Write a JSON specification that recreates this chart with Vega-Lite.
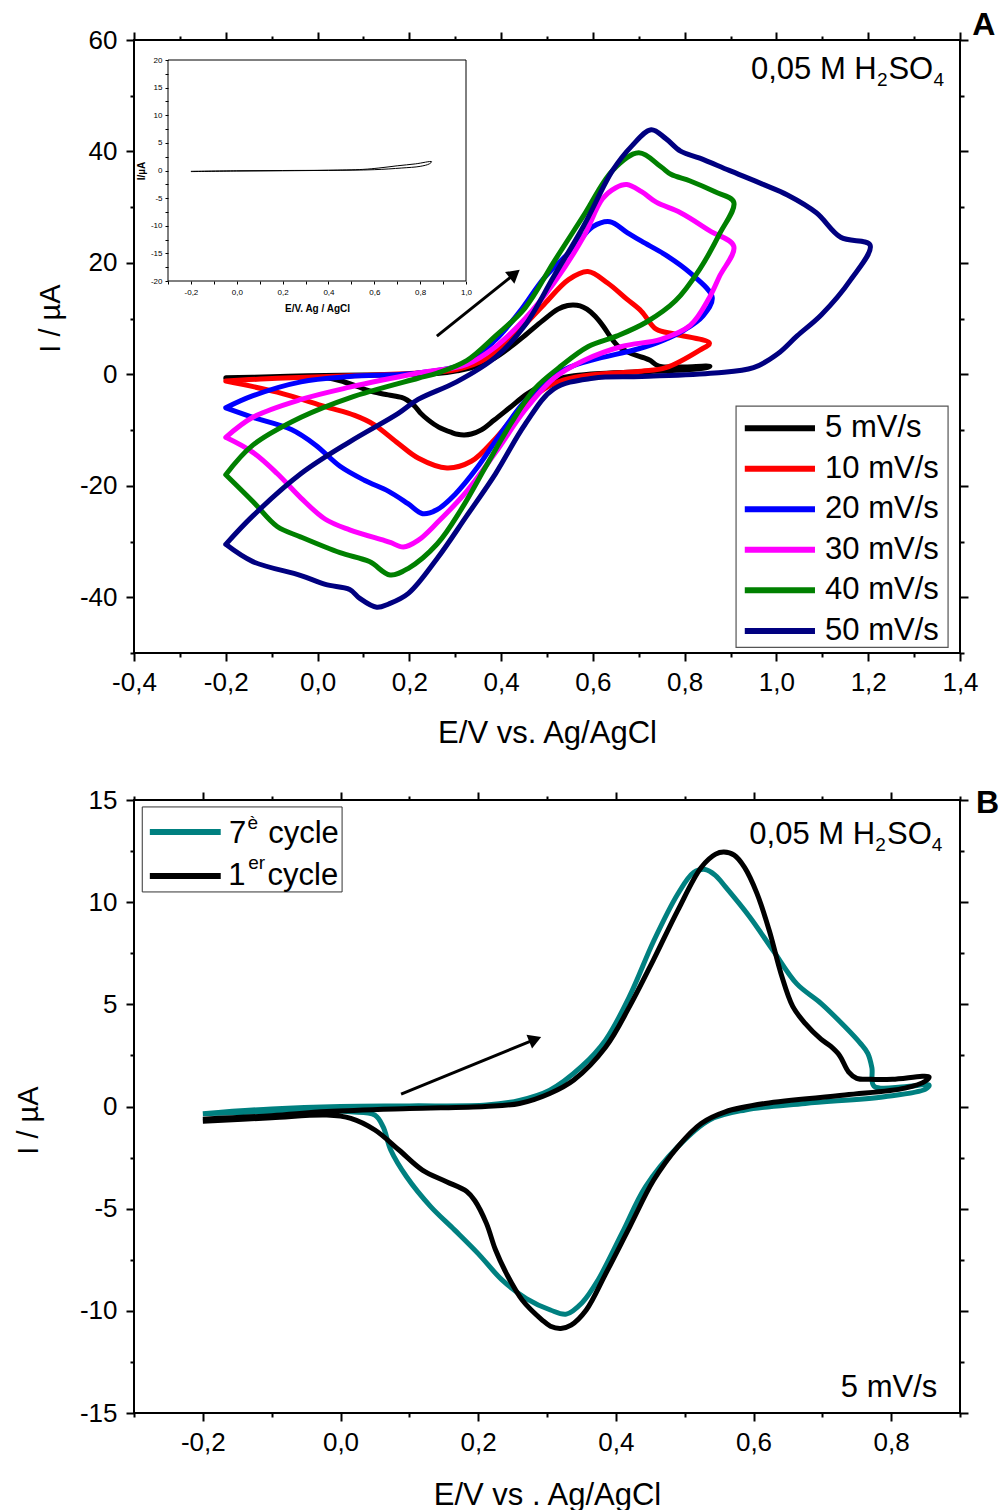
{
  "$schema": "https://vega.github.io/schema/vega-lite/v6.json",
  "background": "white",
  "padding": {"left": 13, "top": 7, "right": 0, "bottom": 0},
  "bounds": "flush",
  "spacing": 147,
  "resolve": {"scale": {"color": "independent"}},
  "config": {
    "font": "Liberation Sans",
    "view": {"stroke": "black", "strokeWidth": 2},
    "axis": {"grid": false, "domain": false, "tickColor": "black", "tickWidth": 2, "labelColor": "black", "titleColor": "black", "labelFont": "Liberation Sans", "titleFont": "Liberation Sans", "titleFontWeight": "normal", "labelFlush": false, "labelOverlap": false, "labelBound": false}
  },
  "datasets": {
    "A": [
      {"s":"5 mV/s","i":0,"E":-0.2,"I":-0.62},{"s":"5 mV/s","i":1,"E":-0.1,"I":-0.45},{"s":"5 mV/s","i":2,"E":-0.02,"I":-0.25},{"s":"5 mV/s","i":3,"E":0.1,"I":-0.1},{"s":"5 mV/s","i":4,"E":0.21,"I":0.0},{"s":"5 mV/s","i":5,"E":0.26,"I":0.15},{"s":"5 mV/s","i":6,"E":0.304,"I":0.64},{"s":"5 mV/s","i":7,"E":0.339,"I":1.3},{"s":"5 mV/s","i":8,"E":0.385,"I":2.9},{"s":"5 mV/s","i":9,"E":0.42,"I":4.9},{"s":"5 mV/s","i":10,"E":0.455,"I":7.2},{"s":"5 mV/s","i":11,"E":0.49,"I":9.6},{"s":"5 mV/s","i":12,"E":0.524,"I":11.7},{"s":"5 mV/s","i":13,"E":0.545,"I":12.35},{"s":"5 mV/s","i":14,"E":0.557,"I":12.45},{"s":"5 mV/s","i":15,"E":0.572,"I":12.3},{"s":"5 mV/s","i":16,"E":0.587,"I":11.7},{"s":"5 mV/s","i":17,"E":0.605,"I":10.43},{"s":"5 mV/s","i":18,"E":0.623,"I":8.6},{"s":"5 mV/s","i":19,"E":0.64,"I":6.5},{"s":"5 mV/s","i":20,"E":0.657,"I":4.9},{"s":"5 mV/s","i":21,"E":0.675,"I":4.07},{"s":"5 mV/s","i":22,"E":0.698,"I":3.3},{"s":"5 mV/s","i":23,"E":0.712,"I":2.95},{"s":"5 mV/s","i":24,"E":0.725,"I":2.5},{"s":"5 mV/s","i":25,"E":0.738,"I":1.7},{"s":"5 mV/s","i":26,"E":0.75,"I":1.38},{"s":"5 mV/s","i":27,"E":0.77,"I":1.33},{"s":"5 mV/s","i":28,"E":0.802,"I":1.33},{"s":"5 mV/s","i":29,"E":0.855,"I":1.45},{"s":"5 mV/s","i":30,"E":0.85,"I":1.25},{"s":"5 mV/s","i":31,"E":0.82,"I":0.9},{"s":"5 mV/s","i":32,"E":0.733,"I":0.56},{"s":"5 mV/s","i":33,"E":0.617,"I":0.15},{"s":"5 mV/s","i":34,"E":0.559,"I":-0.26},{"s":"5 mV/s","i":35,"E":0.524,"I":-0.83},{"s":"5 mV/s","i":36,"E":0.49,"I":-1.97},{"s":"5 mV/s","i":37,"E":0.455,"I":-3.6},{"s":"5 mV/s","i":38,"E":0.42,"I":-5.9},{"s":"5 mV/s","i":39,"E":0.385,"I":-8.2},{"s":"5 mV/s","i":40,"E":0.357,"I":-9.96},{"s":"5 mV/s","i":41,"E":0.335,"I":-10.7},{"s":"5 mV/s","i":42,"E":0.32,"I":-10.86},{"s":"5 mV/s","i":43,"E":0.305,"I":-10.75},{"s":"5 mV/s","i":44,"E":0.293,"I":-10.45},{"s":"5 mV/s","i":45,"E":0.264,"I":-9.47},{"s":"5 mV/s","i":46,"E":0.241,"I":-8.17},{"s":"5 mV/s","i":47,"E":0.225,"I":-7.0},{"s":"5 mV/s","i":48,"E":0.212,"I":-5.72},{"s":"5 mV/s","i":49,"E":0.195,"I":-4.6},{"s":"5 mV/s","i":50,"E":0.183,"I":-4.15},{"s":"5 mV/s","i":51,"E":0.154,"I":-3.68},{"s":"5 mV/s","i":52,"E":0.119,"I":-3.11},{"s":"5 mV/s","i":53,"E":0.085,"I":-2.13},{"s":"5 mV/s","i":54,"E":0.05,"I":-1.15},{"s":"5 mV/s","i":55,"E":0.015,"I":-0.58},{"s":"5 mV/s","i":56,"E":-0.02,"I":-0.42},{"s":"5 mV/s","i":57,"E":-0.1,"I":-0.55},{"s":"5 mV/s","i":58,"E":-0.2,"I":-0.72},
      {"s":"10 mV/s","i":0,"E":-0.2,"I":-1.2},{"s":"10 mV/s","i":1,"E":-0.088,"I":-0.71},{"s":"10 mV/s","i":2,"E":0.07,"I":-0.27},{"s":"10 mV/s","i":3,"E":0.219,"I":0.24},{"s":"10 mV/s","i":4,"E":0.303,"I":0.87},{"s":"10 mV/s","i":5,"E":0.367,"I":2.77},{"s":"10 mV/s","i":6,"E":0.431,"I":7.2},{"s":"10 mV/s","i":7,"E":0.494,"I":12.6},{"s":"10 mV/s","i":8,"E":0.547,"I":17.0},{"s":"10 mV/s","i":9,"E":0.589,"I":18.45},{"s":"10 mV/s","i":10,"E":0.632,"I":16.4},{"s":"10 mV/s","i":11,"E":0.674,"I":13.5},{"s":"10 mV/s","i":12,"E":0.706,"I":11.3},{"s":"10 mV/s","i":13,"E":0.738,"I":8.1},{"s":"10 mV/s","i":14,"E":0.78,"I":7.2},{"s":"10 mV/s","i":15,"E":0.854,"I":5.6},{"s":"10 mV/s","i":16,"E":0.833,"I":4.35},{"s":"10 mV/s","i":17,"E":0.759,"I":1.19},{"s":"10 mV/s","i":18,"E":0.706,"I":0.56},{"s":"10 mV/s","i":19,"E":0.6,"I":-0.07},{"s":"10 mV/s","i":20,"E":0.537,"I":-1.0},{"s":"10 mV/s","i":21,"E":0.494,"I":-2.6},{"s":"10 mV/s","i":22,"E":0.441,"I":-6.4},{"s":"10 mV/s","i":23,"E":0.388,"I":-11.5},{"s":"10 mV/s","i":24,"E":0.335,"I":-15.6},{"s":"10 mV/s","i":25,"E":0.282,"I":-16.8},{"s":"10 mV/s","i":26,"E":0.219,"I":-15.0},{"s":"10 mV/s","i":27,"E":0.176,"I":-12.4},{"s":"10 mV/s","i":28,"E":0.123,"I":-9.0},{"s":"10 mV/s","i":29,"E":0.081,"I":-7.35},{"s":"10 mV/s","i":30,"E":0.017,"I":-5.8},{"s":"10 mV/s","i":31,"E":-0.088,"I":-3.2},{"s":"10 mV/s","i":32,"E":-0.2,"I":-1.2},
      {"s":"20 mV/s","i":0,"E":-0.2,"I":-6.0},{"s":"20 mV/s","i":1,"E":-0.142,"I":-3.87},{"s":"20 mV/s","i":2,"E":-0.036,"I":-1.34},{"s":"20 mV/s","i":3,"E":0.07,"I":-0.39},{"s":"20 mV/s","i":4,"E":0.219,"I":0.24},{"s":"20 mV/s","i":5,"E":0.325,"I":2.1},{"s":"20 mV/s","i":6,"E":0.388,"I":6.2},{"s":"20 mV/s","i":7,"E":0.441,"I":11.3},{"s":"20 mV/s","i":8,"E":0.494,"I":17.3},{"s":"20 mV/s","i":9,"E":0.558,"I":22.7},{"s":"20 mV/s","i":10,"E":0.6,"I":26.5},{"s":"20 mV/s","i":11,"E":0.637,"I":27.4},{"s":"20 mV/s","i":12,"E":0.674,"I":25.5},{"s":"20 mV/s","i":13,"E":0.706,"I":23.9},{"s":"20 mV/s","i":14,"E":0.759,"I":21.4},{"s":"20 mV/s","i":15,"E":0.812,"I":18.2},{"s":"20 mV/s","i":16,"E":0.86,"I":13.8},{"s":"20 mV/s","i":17,"E":0.84,"I":10.5},{"s":"20 mV/s","i":18,"E":0.8,"I":8.0},{"s":"20 mV/s","i":19,"E":0.75,"I":6.0},{"s":"20 mV/s","i":20,"E":0.7,"I":4.6},{"s":"20 mV/s","i":21,"E":0.6,"I":2.6},{"s":"20 mV/s","i":22,"E":0.55,"I":1.3},{"s":"20 mV/s","i":23,"E":0.5,"I":-1.0},{"s":"20 mV/s","i":24,"E":0.45,"I":-5.0},{"s":"20 mV/s","i":25,"E":0.4,"I":-10.5},{"s":"20 mV/s","i":26,"E":0.35,"I":-16.5},{"s":"20 mV/s","i":27,"E":0.3,"I":-21.5},{"s":"20 mV/s","i":28,"E":0.26,"I":-24.3},{"s":"20 mV/s","i":29,"E":0.229,"I":-25.0},{"s":"20 mV/s","i":30,"E":0.197,"I":-23.2},{"s":"20 mV/s","i":31,"E":0.155,"I":-21.0},{"s":"20 mV/s","i":32,"E":0.102,"I":-19.0},{"s":"20 mV/s","i":33,"E":0.049,"I":-16.5},{"s":"20 mV/s","i":34,"E":-0.004,"I":-12.7},{"s":"20 mV/s","i":35,"E":-0.057,"I":-9.9},{"s":"20 mV/s","i":36,"E":-0.141,"I":-7.7},{"s":"20 mV/s","i":37,"E":-0.2,"I":-6.0},
      {"s":"30 mV/s","i":0,"E":-0.2,"I":-11.3},{"s":"30 mV/s","i":1,"E":-0.141,"I":-7.7},{"s":"30 mV/s","i":2,"E":-0.036,"I":-4.5},{"s":"30 mV/s","i":3,"E":0.07,"I":-2.3},{"s":"30 mV/s","i":4,"E":0.219,"I":0.24},{"s":"30 mV/s","i":5,"E":0.325,"I":1.8},{"s":"30 mV/s","i":6,"E":0.388,"I":4.97},{"s":"30 mV/s","i":7,"E":0.452,"I":10.0},{"s":"30 mV/s","i":8,"E":0.515,"I":16.4},{"s":"30 mV/s","i":9,"E":0.579,"I":24.6},{"s":"30 mV/s","i":10,"E":0.621,"I":31.5},{"s":"30 mV/s","i":11,"E":0.65,"I":33.5},{"s":"30 mV/s","i":12,"E":0.674,"I":34.06},{"s":"30 mV/s","i":13,"E":0.706,"I":32.8},{"s":"30 mV/s","i":14,"E":0.738,"I":30.9},{"s":"30 mV/s","i":15,"E":0.791,"I":29.0},{"s":"30 mV/s","i":16,"E":0.854,"I":25.8},{"s":"30 mV/s","i":17,"E":0.907,"I":23.0},{"s":"30 mV/s","i":18,"E":0.876,"I":17.6},{"s":"30 mV/s","i":19,"E":0.854,"I":13.8},{"s":"30 mV/s","i":20,"E":0.812,"I":8.8},{"s":"30 mV/s","i":21,"E":0.748,"I":6.3},{"s":"30 mV/s","i":22,"E":0.663,"I":5.0},{"s":"30 mV/s","i":23,"E":0.579,"I":2.45},{"s":"30 mV/s","i":24,"E":0.515,"I":-0.7},{"s":"30 mV/s","i":25,"E":0.452,"I":-6.4},{"s":"30 mV/s","i":26,"E":0.388,"I":-14.0},{"s":"30 mV/s","i":27,"E":0.325,"I":-21.0},{"s":"30 mV/s","i":28,"E":0.261,"I":-26.6},{"s":"30 mV/s","i":29,"E":0.219,"I":-29.8},{"s":"30 mV/s","i":30,"E":0.187,"I":-31.0},{"s":"30 mV/s","i":31,"E":0.16,"I":-30.2},{"s":"30 mV/s","i":32,"E":0.145,"I":-29.8},{"s":"30 mV/s","i":33,"E":0.07,"I":-27.9},{"s":"30 mV/s","i":34,"E":0.017,"I":-26.0},{"s":"30 mV/s","i":35,"E":-0.036,"I":-22.2},{"s":"30 mV/s","i":36,"E":-0.088,"I":-17.8},{"s":"30 mV/s","i":37,"E":-0.141,"I":-14.0},{"s":"30 mV/s","i":38,"E":-0.2,"I":-11.3},
      {"s":"40 mV/s","i":0,"E":-0.2,"I":-18.0},{"s":"40 mV/s","i":1,"E":-0.141,"I":-12.7},{"s":"40 mV/s","i":2,"E":-0.036,"I":-7.7},{"s":"40 mV/s","i":3,"E":0.07,"I":-4.2},{"s":"40 mV/s","i":4,"E":0.219,"I":-0.7},{"s":"40 mV/s","i":5,"E":0.261,"I":0.24},{"s":"40 mV/s","i":6,"E":0.325,"I":2.45},{"s":"40 mV/s","i":7,"E":0.388,"I":6.9},{"s":"40 mV/s","i":8,"E":0.452,"I":11.9},{"s":"40 mV/s","i":9,"E":0.515,"I":20.2},{"s":"40 mV/s","i":10,"E":0.579,"I":28.4},{"s":"40 mV/s","i":11,"E":0.643,"I":36.6},{"s":"40 mV/s","i":12,"E":0.7,"I":39.75},{"s":"40 mV/s","i":13,"E":0.749,"I":37.2},{"s":"40 mV/s","i":14,"E":0.77,"I":35.9},{"s":"40 mV/s","i":15,"E":0.812,"I":34.7},{"s":"40 mV/s","i":16,"E":0.865,"I":32.8},{"s":"40 mV/s","i":17,"E":0.907,"I":30.9},{"s":"40 mV/s","i":18,"E":0.876,"I":25.2},{"s":"40 mV/s","i":19,"E":0.833,"I":18.9},{"s":"40 mV/s","i":20,"E":0.78,"I":13.2},{"s":"40 mV/s","i":21,"E":0.717,"I":9.4},{"s":"40 mV/s","i":22,"E":0.653,"I":6.9},{"s":"40 mV/s","i":23,"E":0.59,"I":5.0},{"s":"40 mV/s","i":24,"E":0.526,"I":1.2},{"s":"40 mV/s","i":25,"E":0.473,"I":-2.6},{"s":"40 mV/s","i":26,"E":0.42,"I":-9.0},{"s":"40 mV/s","i":27,"E":0.367,"I":-16.5},{"s":"40 mV/s","i":28,"E":0.314,"I":-24.1},{"s":"40 mV/s","i":29,"E":0.261,"I":-30.4},{"s":"40 mV/s","i":30,"E":0.198,"I":-34.8},{"s":"40 mV/s","i":31,"E":0.158,"I":-36.0},{"s":"40 mV/s","i":32,"E":0.113,"I":-33.6},{"s":"40 mV/s","i":33,"E":0.049,"I":-32.0},{"s":"40 mV/s","i":34,"E":-0.036,"I":-29.2},{"s":"40 mV/s","i":35,"E":-0.088,"I":-27.3},{"s":"40 mV/s","i":36,"E":-0.141,"I":-22.8},{"s":"40 mV/s","i":37,"E":-0.2,"I":-18.0},
      {"s":"50 mV/s","i":0,"E":-0.2,"I":-30.5},{"s":"50 mV/s","i":1,"E":-0.141,"I":-25.4},{"s":"50 mV/s","i":2,"E":-0.036,"I":-17.8},{"s":"50 mV/s","i":3,"E":0.07,"I":-12.1},{"s":"50 mV/s","i":4,"E":0.176,"I":-7.0},{"s":"50 mV/s","i":5,"E":0.219,"I":-4.5},{"s":"50 mV/s","i":6,"E":0.303,"I":-1.34},{"s":"50 mV/s","i":7,"E":0.388,"I":3.1},{"s":"50 mV/s","i":8,"E":0.452,"I":8.8},{"s":"50 mV/s","i":9,"E":0.515,"I":17.6},{"s":"50 mV/s","i":10,"E":0.579,"I":26.5},{"s":"50 mV/s","i":11,"E":0.643,"I":36.6},{"s":"50 mV/s","i":12,"E":0.685,"I":41.0},{"s":"50 mV/s","i":13,"E":0.727,"I":43.9},{"s":"50 mV/s","i":14,"E":0.759,"I":42.3},{"s":"50 mV/s","i":15,"E":0.791,"I":40.06},{"s":"50 mV/s","i":16,"E":0.833,"I":38.8},{"s":"50 mV/s","i":17,"E":0.897,"I":36.6},{"s":"50 mV/s","i":18,"E":0.971,"I":34.1},{"s":"50 mV/s","i":19,"E":1.024,"I":32.2},{"s":"50 mV/s","i":20,"E":1.087,"I":29.0},{"s":"50 mV/s","i":21,"E":1.14,"I":24.6},{"s":"50 mV/s","i":22,"E":1.204,"I":23.2},{"s":"50 mV/s","i":23,"E":1.162,"I":17.0},{"s":"50 mV/s","i":24,"E":1.098,"I":10.7},{"s":"50 mV/s","i":25,"E":1.045,"I":6.9},{"s":"50 mV/s","i":26,"E":1.003,"I":3.7},{"s":"50 mV/s","i":27,"E":0.95,"I":1.19},{"s":"50 mV/s","i":28,"E":0.865,"I":0.24},{"s":"50 mV/s","i":29,"E":0.706,"I":-0.39},{"s":"50 mV/s","i":30,"E":0.6,"I":-0.7},{"s":"50 mV/s","i":31,"E":0.515,"I":-2.6},{"s":"50 mV/s","i":32,"E":0.452,"I":-9.0},{"s":"50 mV/s","i":33,"E":0.388,"I":-17.8},{"s":"50 mV/s","i":34,"E":0.325,"I":-25.4},{"s":"50 mV/s","i":35,"E":0.261,"I":-33.0},{"s":"50 mV/s","i":36,"E":0.198,"I":-39.3},{"s":"50 mV/s","i":37,"E":0.155,"I":-41.2},{"s":"50 mV/s","i":38,"E":0.129,"I":-41.8},{"s":"50 mV/s","i":39,"E":0.092,"I":-40.2},{"s":"50 mV/s","i":40,"E":0.07,"I":-38.6},{"s":"50 mV/s","i":41,"E":0.017,"I":-37.7},{"s":"50 mV/s","i":42,"E":-0.036,"I":-36.1},{"s":"50 mV/s","i":43,"E":-0.141,"I":-33.6},{"s":"50 mV/s","i":44,"E":-0.2,"I":-30.5}
    ],
    "legA": [
      {"s":"5 mV/s","E":0.931,"E2":1.084,"T":1.106,"I":-9.66},
      {"s":"10 mV/s","E":0.931,"E2":1.084,"T":1.106,"I":-16.93},
      {"s":"20 mV/s","E":0.931,"E2":1.084,"T":1.106,"I":-24.2},
      {"s":"30 mV/s","E":0.931,"E2":1.084,"T":1.106,"I":-31.48},
      {"s":"40 mV/s","E":0.931,"E2":1.084,"T":1.106,"I":-38.76},
      {"s":"50 mV/s","E":0.931,"E2":1.084,"T":1.106,"I":-46.03}
    ],
    "inset": [
      {"i":0,"E":-0.2,"I":-0.15},{"i":1,"E":0.0,"I":-0.05},{"i":2,"E":0.2,"I":0.0},{"i":3,"E":0.4,"I":0.05},{"i":4,"E":0.55,"I":0.2},{"i":5,"E":0.62,"I":0.45},{"i":6,"E":0.7,"I":0.85},{"i":7,"E":0.78,"I":1.2},{"i":8,"E":0.85,"I":1.6},{"i":9,"E":0.84,"I":1.2},{"i":10,"E":0.8,"I":0.75},{"i":11,"E":0.72,"I":0.45},{"i":12,"E":0.6,"I":0.15},{"i":13,"E":0.4,"I":0.02},{"i":14,"E":0.2,"I":-0.05},{"i":15,"E":0.0,"I":-0.1},{"i":16,"E":-0.2,"I":-0.2}
    ],
    "B": [
      {"s":"7e","i":0,"E":-0.2,"I":-0.35},{"s":"7e","i":1,"E":-0.1,"I":-0.12},{"s":"7e","i":2,"E":0.0,"I":0.0},{"s":"7e","i":3,"E":0.1,"I":0.03},{"s":"7e","i":4,"E":0.212,"I":0.07},{"s":"7e","i":5,"E":0.26,"I":0.3},{"s":"7e","i":6,"E":0.304,"I":0.8},{"s":"7e","i":7,"E":0.35,"I":1.95},{"s":"7e","i":8,"E":0.385,"I":3.25},{"s":"7e","i":9,"E":0.42,"I":5.4},{"s":"7e","i":10,"E":0.455,"I":8.1},{"s":"7e","i":11,"E":0.49,"I":10.4},{"s":"7e","i":12,"E":0.513,"I":11.45},{"s":"7e","i":13,"E":0.53,"I":11.6},{"s":"7e","i":14,"E":0.545,"I":11.3},{"s":"7e","i":15,"E":0.559,"I":10.76},{"s":"7e","i":16,"E":0.594,"I":9.3},{"s":"7e","i":17,"E":0.628,"I":7.66},{"s":"7e","i":18,"E":0.663,"I":6.0},{"s":"7e","i":19,"E":0.698,"I":5.05},{"s":"7e","i":20,"E":0.733,"I":3.9},{"s":"7e","i":21,"E":0.755,"I":3.1},{"s":"7e","i":22,"E":0.766,"I":2.6},{"s":"7e","i":23,"E":0.772,"I":1.9},{"s":"7e","i":24,"E":0.775,"I":1.0},{"s":"7e","i":25,"E":0.82,"I":0.97},{"s":"7e","i":26,"E":0.855,"I":1.05},{"s":"7e","i":27,"E":0.85,"I":0.85},{"s":"7e","i":28,"E":0.79,"I":0.48},{"s":"7e","i":29,"E":0.675,"I":0.15},{"s":"7e","i":30,"E":0.588,"I":-0.17},{"s":"7e","i":31,"E":0.536,"I":-0.66},{"s":"7e","i":32,"E":0.49,"I":-1.97},{"s":"7e","i":33,"E":0.443,"I":-3.93},{"s":"7e","i":34,"E":0.409,"I":-6.2},{"s":"7e","i":35,"E":0.374,"I":-8.5},{"s":"7e","i":36,"E":0.351,"I":-9.6},{"s":"7e","i":37,"E":0.328,"I":-10.16},{"s":"7e","i":38,"E":0.305,"I":-9.96},{"s":"7e","i":39,"E":0.27,"I":-9.4},{"s":"7e","i":40,"E":0.235,"I":-8.5},{"s":"7e","i":41,"E":0.2,"I":-7.2},{"s":"7e","i":42,"E":0.166,"I":-6.05},{"s":"7e","i":43,"E":0.131,"I":-4.9},{"s":"7e","i":44,"E":0.096,"I":-3.44},{"s":"7e","i":45,"E":0.073,"I":-2.13},{"s":"7e","i":46,"E":0.062,"I":-1.0},{"s":"7e","i":47,"E":0.05,"I":-0.42},{"s":"7e","i":48,"E":0.015,"I":-0.26},{"s":"7e","i":49,"E":-0.02,"I":-0.2},{"s":"7e","i":50,"E":-0.1,"I":-0.25},{"s":"7e","i":51,"E":-0.2,"I":-0.35},
      {"s":"1er","i":0,"E":-0.2,"I":-0.62},{"s":"1er","i":1,"E":-0.1,"I":-0.45},{"s":"1er","i":2,"E":-0.02,"I":-0.25},{"s":"1er","i":3,"E":0.1,"I":-0.1},{"s":"1er","i":4,"E":0.21,"I":0.0},{"s":"1er","i":5,"E":0.26,"I":0.15},{"s":"1er","i":6,"E":0.304,"I":0.64},{"s":"1er","i":7,"E":0.339,"I":1.3},{"s":"1er","i":8,"E":0.385,"I":2.9},{"s":"1er","i":9,"E":0.42,"I":4.9},{"s":"1er","i":10,"E":0.455,"I":7.2},{"s":"1er","i":11,"E":0.49,"I":9.6},{"s":"1er","i":12,"E":0.524,"I":11.7},{"s":"1er","i":13,"E":0.545,"I":12.35},{"s":"1er","i":14,"E":0.557,"I":12.45},{"s":"1er","i":15,"E":0.572,"I":12.3},{"s":"1er","i":16,"E":0.587,"I":11.7},{"s":"1er","i":17,"E":0.605,"I":10.43},{"s":"1er","i":18,"E":0.623,"I":8.6},{"s":"1er","i":19,"E":0.64,"I":6.5},{"s":"1er","i":20,"E":0.657,"I":4.9},{"s":"1er","i":21,"E":0.675,"I":4.07},{"s":"1er","i":22,"E":0.698,"I":3.3},{"s":"1er","i":23,"E":0.712,"I":2.95},{"s":"1er","i":24,"E":0.725,"I":2.5},{"s":"1er","i":25,"E":0.738,"I":1.7},{"s":"1er","i":26,"E":0.75,"I":1.38},{"s":"1er","i":27,"E":0.77,"I":1.33},{"s":"1er","i":28,"E":0.802,"I":1.33},{"s":"1er","i":29,"E":0.855,"I":1.45},{"s":"1er","i":30,"E":0.85,"I":1.25},{"s":"1er","i":31,"E":0.82,"I":0.9},{"s":"1er","i":32,"E":0.733,"I":0.56},{"s":"1er","i":33,"E":0.617,"I":0.15},{"s":"1er","i":34,"E":0.559,"I":-0.26},{"s":"1er","i":35,"E":0.524,"I":-0.83},{"s":"1er","i":36,"E":0.49,"I":-1.97},{"s":"1er","i":37,"E":0.455,"I":-3.6},{"s":"1er","i":38,"E":0.42,"I":-5.9},{"s":"1er","i":39,"E":0.385,"I":-8.2},{"s":"1er","i":40,"E":0.357,"I":-9.96},{"s":"1er","i":41,"E":0.335,"I":-10.7},{"s":"1er","i":42,"E":0.32,"I":-10.86},{"s":"1er","i":43,"E":0.305,"I":-10.75},{"s":"1er","i":44,"E":0.293,"I":-10.45},{"s":"1er","i":45,"E":0.264,"I":-9.47},{"s":"1er","i":46,"E":0.241,"I":-8.17},{"s":"1er","i":47,"E":0.225,"I":-7.0},{"s":"1er","i":48,"E":0.212,"I":-5.72},{"s":"1er","i":49,"E":0.195,"I":-4.6},{"s":"1er","i":50,"E":0.183,"I":-4.15},{"s":"1er","i":51,"E":0.154,"I":-3.68},{"s":"1er","i":52,"E":0.119,"I":-3.11},{"s":"1er","i":53,"E":0.085,"I":-2.13},{"s":"1er","i":54,"E":0.05,"I":-1.15},{"s":"1er","i":55,"E":0.015,"I":-0.58},{"s":"1er","i":56,"E":-0.02,"I":-0.42},{"s":"1er","i":57,"E":-0.1,"I":-0.55},{"s":"1er","i":58,"E":-0.2,"I":-0.72}
    ]
  },
  "vconcat": [
    {
      "width": 826,
      "height": 613,
      "layer": [
        {
          "data": {"name": "A"},
          "mark": {"type": "line", "strokeWidth": 5, "interpolate": "catmull-rom", "strokeJoin": "round", "strokeCap": "round"},
          "encoding": {
            "x": {"field": "E", "type": "quantitative", "scale": {"domain": [-0.4, 1.4], "nice": false, "zero": false},
              "axis": {"orient": "bottom", "values": [-0.4, -0.2, 0, 0.2, 0.4, 0.6, 0.8, 1, 1.2, 1.4], "labelExpr": "(datum.value < -0.001 ? '-' : '') + replace(format(abs(datum.value), '.1f'), '.', ',')", "tickSize": 8, "labelFontSize": 26, "labelPadding": 8, "title": "E/V vs. Ag/AgCl", "titleFontSize": 31, "titleY": 80, "titleBaseline": "middle"}},
            "y": {"field": "I", "type": "quantitative", "scale": {"domain": [-50, 60], "nice": false, "zero": false},
              "axis": {"orient": "left", "values": [-40, -20, 0, 20, 40, 60], "labelExpr": "(datum.value < 0 ? '-' : '') + format(abs(datum.value), 'd')", "tickSize": 8, "labelFontSize": 26, "labelPadding": 9, "title": "I / µA", "titleFontSize": 29, "titleX": -84, "titleY": 278, "titleBaseline": "middle", "titleAlign": "center", "titleAngle": 270}},
            "color": {"field": "s", "type": "nominal",
              "scale": {"domain": ["5 mV/s", "10 mV/s", "20 mV/s", "30 mV/s", "40 mV/s", "50 mV/s"], "range": ["#000000", "#FF0000", "#0000FF", "#FF00FF", "#008000", "#000080"]},
              "legend": null},
            "order": {"field": "i", "type": "quantitative"}
          }
        },
        {
          "data": {"values": [{"E": 0.26, "I": 6.86, "E2": 0.426, "I2": 17.8}]},
          "mark": {"type": "rule", "strokeWidth": 3, "color": "black"},
          "encoding": {
            "x": {"field": "E", "type": "quantitative", "scale": {"domain": [-0.4, 1.4], "nice": false, "zero": false},
              "axis": {"orient": "bottom", "values": [-0.3, -0.1, 0.1, 0.3, 0.5, 0.7, 0.9, 1.1, 1.3], "labels": false, "tickSize": 4, "title": null}},
            "y": {"field": "I", "type": "quantitative", "scale": {"domain": [-50, 60], "nice": false, "zero": false},
              "axis": {"orient": "left", "values": [-50, -30, -10, 10, 30, 50], "labels": false, "tickSize": 4, "title": null}},
            "x2": {"field": "E2"},
            "y2": {"field": "I2"}
          }
        },
        {
          "data": {"values": [{"E": 0.426, "I": 17.8}]},
          "mark": {"type": "point", "shape": "triangle", "filled": true, "color": "black", "opacity": 1, "size": 220, "angle": 51},
          "encoding": {
            "x": {"field": "E", "type": "quantitative", "scale": {"domain": [-0.4, 1.4], "nice": false, "zero": false},
              "axis": {"orient": "top", "values": [-0.4, -0.2, 0, 0.2, 0.4, 0.6, 0.8, 1, 1.2, 1.4], "labels": false, "tickSize": 8, "title": null}},
            "y": {"field": "I", "type": "quantitative", "scale": {"domain": [-50, 60], "nice": false, "zero": false},
              "axis": {"orient": "right", "values": [-40, -20, 0, 20, 40, 60], "labels": false, "tickSize": 8, "title": null}}
          }
        },
        {
          "data": {"values": [{"t": "0,05 M H", "E": 0.9445, "I": 53.0}, {"t": "SO", "E": 1.244, "I": 53.0}]},
          "mark": {"type": "text", "align": "left", "baseline": "alphabetic", "fontSize": 31, "font": "Liberation Sans", "color": "black"},
          "encoding": {
            "x": {"field": "E", "type": "quantitative", "scale": {"domain": [-0.4, 1.4], "nice": false, "zero": false},
              "axis": {"orient": "top", "values": [-0.3, -0.1, 0.1, 0.3, 0.5, 0.7, 0.9, 1.1, 1.3], "labels": false, "tickSize": 4, "title": null}},
            "y": {"field": "I", "type": "quantitative", "scale": {"domain": [-50, 60], "nice": false, "zero": false},
              "axis": {"orient": "right", "values": [-50, -30, -10, 10, 30, 50], "labels": false, "tickSize": 4, "title": null}},
            "text": {"field": "t"}
          }
        },
        {
          "data": {"values": [{"t": "2", "E": 1.219, "I": 51.74}, {"t": "4", "E": 1.342, "I": 51.74}]},
          "mark": {"type": "text", "align": "left", "baseline": "alphabetic", "fontSize": 19, "font": "Liberation Sans", "color": "black"},
          "encoding": {
            "x": {"field": "E", "type": "quantitative", "scale": {"domain": [-0.4, 1.4], "nice": false, "zero": false}, "axis": null},
            "y": {"field": "I", "type": "quantitative", "scale": {"domain": [-50, 60], "nice": false, "zero": false}, "axis": null},
            "text": {"field": "t"}
          }
        },
        {
          "data": {"values": [{"t": "A", "E": 1.452, "I": 62.7}]},
          "mark": {"type": "text", "align": "center", "baseline": "middle", "fontSize": 32, "fontWeight": "bold", "font": "Liberation Sans", "color": "black"},
          "encoding": {
            "x": {"field": "E", "type": "quantitative", "scale": {"domain": [-0.4, 1.4], "nice": false, "zero": false}, "axis": null},
            "y": {"field": "I", "type": "quantitative", "scale": {"domain": [-50, 60], "nice": false, "zero": false}, "axis": null},
            "text": {"field": "t"}
          }
        },
        {
          "data": {"values": [{"x1": 0.912, "x2": 1.374, "y1": -5.71, "y2": -48.98}]},
          "mark": {"type": "rect", "fill": "white", "stroke": "#555555", "strokeWidth": 1.2},
          "encoding": {
            "x": {"field": "x1", "type": "quantitative", "scale": {"domain": [-0.4, 1.4], "nice": false, "zero": false}, "axis": null},
            "x2": {"field": "x2"},
            "y": {"field": "y1", "type": "quantitative", "scale": {"domain": [-50, 60], "nice": false, "zero": false}, "axis": null},
            "y2": {"field": "y2"}
          }
        },
        {
          "data": {"name": "legA"},
          "mark": {"type": "rule", "strokeWidth": 6},
          "encoding": {
            "x": {"field": "E", "type": "quantitative", "scale": {"domain": [-0.4, 1.4], "nice": false, "zero": false}, "axis": null},
            "x2": {"field": "E2"},
            "y": {"field": "I", "type": "quantitative", "scale": {"domain": [-50, 60], "nice": false, "zero": false}, "axis": null},
            "color": {"field": "s", "type": "nominal", "legend": null}
          }
        },
        {
          "data": {"name": "legA"},
          "mark": {"type": "text", "align": "left", "baseline": "middle", "fontSize": 31, "font": "Liberation Sans", "color": "black"},
          "encoding": {
            "x": {"field": "T", "type": "quantitative", "scale": {"domain": [-0.4, 1.4], "nice": false, "zero": false}, "axis": null},
            "y": {"field": "I", "type": "quantitative", "scale": {"domain": [-50, 60], "nice": false, "zero": false}, "axis": null},
            "text": {"field": "s"}
          }
        },
        {
          "data": {"values": [{"x1": -0.3, "x2": 1.0, "y1": -20, "y2": 20}]},
          "mark": {"type": "rect", "fill": "white", "stroke": "black", "strokeWidth": 1},
          "encoding": {
            "x": {"field": "x1", "type": "quantitative", "scale": {"domain": [-0.3, 1.0], "range": [34, 332], "nice": false, "zero": false},
              "axis": {"orient": "bottom", "offset": -372, "values": [-0.3, -0.2, -0.1, 0, 0.1, 0.2, 0.3, 0.4, 0.5, 0.6, 0.7, 0.8, 0.9, 1.0], "labelExpr": "abs(round(datum.value*10)) % 2 == 0 ? (datum.value < -0.001 ? '-' : '') + replace(format(abs(datum.value), '.1f'), '.', ',') : ''", "tickSize": 3, "tickWidth": 1, "labelFontSize": 8, "labelPadding": 4, "title": "E/V. Ag / AgCl", "titleFontSize": 10, "titleFontWeight": "bold", "titlePadding": 7, "zindex": 1}},
            "x2": {"field": "x2"},
            "y": {"field": "y1", "type": "quantitative", "scale": {"domain": [-20, 20], "range": [241, 20], "nice": false, "zero": false},
              "axis": {"orient": "left", "offset": -34, "values": [-20, -17.5, -15, -12.5, -10, -7.5, -5, -2.5, 0, 2.5, 5, 7.5, 10, 12.5, 15, 17.5, 20], "labelExpr": "abs(round(datum.value*2)) % 2 == 0 ? (datum.value < 0 ? '-' : '') + format(abs(datum.value), 'd') : ''", "tickSize": 3, "tickWidth": 1, "labelFontSize": 8, "labelPadding": 3, "title": "I/µA", "titleFontSize": 10, "titleFontWeight": "bold", "titlePadding": 4, "zindex": 1}},
            "y2": {"field": "y2"}
          }
        },
        {
          "data": {"name": "inset"},
          "mark": {"type": "line", "strokeWidth": 1, "color": "black", "interpolate": "catmull-rom"},
          "encoding": {
            "x": {"field": "E", "type": "quantitative", "scale": {"domain": [-0.3, 1.0], "range": [34, 332], "nice": false, "zero": false}, "axis": null},
            "y": {"field": "I", "type": "quantitative", "scale": {"domain": [-20, 20], "range": [241, 20], "nice": false, "zero": false}, "axis": null},
            "order": {"field": "i", "type": "quantitative"}
          }
        }
      ],
      "resolve": {"scale": {"x": "independent", "y": "independent"}}
    },
    {
      "width": 826,
      "height": 613,
      "layer": [
        {
          "data": {"name": "B"},
          "transform": [{"filter": "datum.s == '7e'"}],
          "mark": {"type": "line", "strokeWidth": 5, "color": "#008080", "interpolate": "catmull-rom", "strokeJoin": "round"},
          "encoding": {
            "x": {"field": "E", "type": "quantitative", "scale": {"domain": [-0.3, 0.9], "nice": false, "zero": false},
              "axis": {"orient": "bottom", "values": [-0.2, 0, 0.2, 0.4, 0.6, 0.8], "labelExpr": "(datum.value < -0.001 ? '-' : '') + replace(format(abs(datum.value), '.1f'), '.', ',')", "tickSize": 8, "labelFontSize": 26, "labelPadding": 8, "title": "E/V vs . Ag/AgCl", "titleFontSize": 31, "titleY": 82, "titleBaseline": "middle"}},
            "y": {"field": "I", "type": "quantitative", "scale": {"domain": [-15, 15], "nice": false, "zero": false},
              "axis": {"orient": "left", "values": [-15, -10, -5, 0, 5, 10, 15], "labelExpr": "(datum.value < 0 ? '-' : '') + format(abs(datum.value), 'd')", "tickSize": 8, "labelFontSize": 26, "labelPadding": 9, "title": "I / µA", "titleFontSize": 29, "titleX": -106, "titleY": 320, "titleBaseline": "middle", "titleAlign": "center", "titleAngle": 270}},
            "order": {"field": "i", "type": "quantitative"}
          }
        },
        {
          "data": {"name": "B"},
          "transform": [{"filter": "datum.s == '1er'"}],
          "mark": {"type": "line", "strokeWidth": 5, "color": "#000000", "interpolate": "catmull-rom", "strokeJoin": "round"},
          "encoding": {
            "x": {"field": "E", "type": "quantitative", "scale": {"domain": [-0.3, 0.9], "nice": false, "zero": false},
              "axis": {"orient": "bottom", "values": [-0.3, -0.1, 0.1, 0.3, 0.5, 0.7, 0.9], "labels": false, "tickSize": 4, "title": null}},
            "y": {"field": "I", "type": "quantitative", "scale": {"domain": [-15, 15], "nice": false, "zero": false},
              "axis": {"orient": "left", "values": [-12.5, -7.5, -2.5, 2.5, 7.5, 12.5], "labels": false, "tickSize": 4, "title": null}},
            "order": {"field": "i", "type": "quantitative"}
          }
        },
        {
          "data": {"values": [{"E": 0.088, "I": 0.61, "E2": 0.28, "I2": 3.25}]},
          "mark": {"type": "rule", "strokeWidth": 3, "color": "black"},
          "encoding": {
            "x": {"field": "E", "type": "quantitative", "scale": {"domain": [-0.3, 0.9], "nice": false, "zero": false},
              "axis": {"orient": "top", "values": [-0.2, 0, 0.2, 0.4, 0.6, 0.8], "labels": false, "tickSize": 8, "title": null}},
            "y": {"field": "I", "type": "quantitative", "scale": {"domain": [-15, 15], "nice": false, "zero": false},
              "axis": {"orient": "right", "values": [-15, -10, -5, 0, 5, 10, 15], "labels": false, "tickSize": 8, "title": null}},
            "x2": {"field": "E2"},
            "y2": {"field": "I2"}
          }
        },
        {
          "data": {"values": [{"E": 0.28, "I": 3.25}]},
          "mark": {"type": "point", "shape": "triangle", "filled": true, "color": "black", "opacity": 1, "size": 220, "angle": 68},
          "encoding": {
            "x": {"field": "E", "type": "quantitative", "scale": {"domain": [-0.3, 0.9], "nice": false, "zero": false},
              "axis": {"orient": "top", "values": [-0.3, -0.1, 0.1, 0.3, 0.5, 0.7, 0.9], "labels": false, "tickSize": 4, "title": null}},
            "y": {"field": "I", "type": "quantitative", "scale": {"domain": [-15, 15], "nice": false, "zero": false},
              "axis": {"orient": "right", "values": [-12.5, -7.5, -2.5, 2.5, 7.5, 12.5], "labels": false, "tickSize": 4, "title": null}}
          }
        },
        {
          "data": {"values": [{"x1": -0.288, "x2": 0.0023, "y1": 14.66, "y2": 10.5}]},
          "mark": {"type": "rect", "fill": "white", "stroke": "#333333", "strokeWidth": 1},
          "encoding": {
            "x": {"field": "x1", "type": "quantitative", "scale": {"domain": [-0.3, 0.9], "nice": false, "zero": false}, "axis": null},
            "x2": {"field": "x2"},
            "y": {"field": "y1", "type": "quantitative", "scale": {"domain": [-15, 15], "nice": false, "zero": false}, "axis": null},
            "y2": {"field": "y2"}
          }
        },
        {
          "data": {"values": [{"E": -0.277, "E2": -0.174, "I": 13.43}]},
          "mark": {"type": "rule", "strokeWidth": 6, "color": "#008080"},
          "encoding": {
            "x": {"field": "E", "type": "quantitative", "scale": {"domain": [-0.3, 0.9], "nice": false, "zero": false}, "axis": null},
            "x2": {"field": "E2"},
            "y": {"field": "I", "type": "quantitative", "scale": {"domain": [-15, 15], "nice": false, "zero": false}, "axis": null}
          }
        },
        {
          "data": {"values": [{"E": -0.277, "E2": -0.174, "I": 11.28}]},
          "mark": {"type": "rule", "strokeWidth": 6, "color": "#000000"},
          "encoding": {
            "x": {"field": "E", "type": "quantitative", "scale": {"domain": [-0.3, 0.9], "nice": false, "zero": false}, "axis": null},
            "x2": {"field": "E2"},
            "y": {"field": "I", "type": "quantitative", "scale": {"domain": [-15, 15], "nice": false, "zero": false}, "axis": null}
          }
        },
        {
          "data": {"values": [{"t": "7", "E": -0.162, "I": 12.9}, {"t": "cycle", "E": -0.105, "I": 12.9}, {"t": "1", "E": -0.163, "I": 10.84}, {"t": "cycle", "E": -0.106, "I": 10.84}, {"t": "0,05 M H", "E": 0.594, "I": 12.85}, {"t": "SO", "E": 0.794, "I": 12.85}]},
          "mark": {"type": "text", "align": "left", "baseline": "alphabetic", "fontSize": 31, "font": "Liberation Sans", "color": "black"},
          "encoding": {
            "x": {"field": "E", "type": "quantitative", "scale": {"domain": [-0.3, 0.9], "nice": false, "zero": false}, "axis": null},
            "y": {"field": "I", "type": "quantitative", "scale": {"domain": [-15, 15], "nice": false, "zero": false}, "axis": null},
            "text": {"field": "t"}
          }
        },
        {
          "data": {"values": [{"t": "5 mV/s", "E": 0.867, "I": -13.78}]},
          "mark": {"type": "text", "align": "right", "baseline": "middle", "fontSize": 31, "font": "Liberation Sans", "color": "black"},
          "encoding": {
            "x": {"field": "E", "type": "quantitative", "scale": {"domain": [-0.3, 0.9], "nice": false, "zero": false}, "axis": null},
            "y": {"field": "I", "type": "quantitative", "scale": {"domain": [-15, 15], "nice": false, "zero": false}, "axis": null},
            "text": {"field": "t"}
          }
        },
        {
          "data": {"values": [{"t": "è", "E": -0.135, "I": 13.58}, {"t": "er", "E": -0.134, "I": 11.62}, {"t": "2", "E": 0.777, "I": 12.5}, {"t": "4", "E": 0.859, "I": 12.5}]},
          "mark": {"type": "text", "align": "left", "baseline": "alphabetic", "fontSize": 19, "font": "Liberation Sans", "color": "black"},
          "encoding": {
            "x": {"field": "E", "type": "quantitative", "scale": {"domain": [-0.3, 0.9], "nice": false, "zero": false}, "axis": null},
            "y": {"field": "I", "type": "quantitative", "scale": {"domain": [-15, 15], "nice": false, "zero": false}, "axis": null},
            "text": {"field": "t"}
          }
        },
        {
          "data": {"values": [{"t": "B", "E": 0.94, "I": 14.85}]},
          "mark": {"type": "text", "align": "center", "baseline": "middle", "fontSize": 32, "fontWeight": "bold", "font": "Liberation Sans", "color": "black"},
          "encoding": {
            "x": {"field": "E", "type": "quantitative", "scale": {"domain": [-0.3, 0.9], "nice": false, "zero": false}, "axis": null},
            "y": {"field": "I", "type": "quantitative", "scale": {"domain": [-15, 15], "nice": false, "zero": false}, "axis": null},
            "text": {"field": "t"}
          }
        }
      ],
      "resolve": {"axis": {"x": "independent", "y": "independent"}}
    }
  ]
}
